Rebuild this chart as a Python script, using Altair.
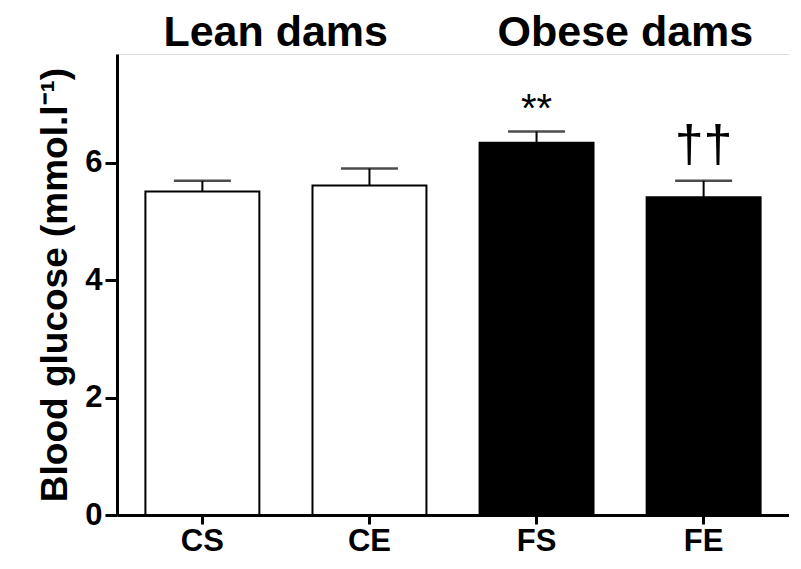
import altair as alt
import pandas as pd

groups = ["CS", "CE", "FS", "FE"]
means = [5.51, 5.61, 6.34, 5.41]
errs = [0.18, 0.29, 0.19, 0.28]
fills = ["white", "white", "black", "black"]

group_titles = ["Lean dams", "Obese dams"]
group_title_pos = ["CS", "FS"]  # left category of each pair

ann_groups = ["FS", "FE"]
ann_text = ["**", "††"]
ann_y = [6.9, 6.28]
ann_size = [40, 52]

df = pd.DataFrame({"group": groups, "mean": means, "err": errs, "fill": fills})
df["upper"] = df["mean"] + df["err"]

FONT = "Liberation Sans"
W, H = 672, 461
YMAX = 7.85

xenc = alt.X("group:N", sort=groups, title=None,
             scale=alt.Scale(paddingInner=0.318, paddingOuter=0.17),
             axis=alt.Axis(labelFont=FONT, labelFontSize=31, labelFontWeight="bold",
                           labelColor="black", labelAngle=0, labelPadding=2,
                           domainColor="black", domainWidth=3, tickColor="black",
                           tickWidth=3, tickSize=9))
yscale = alt.Scale(domain=[0, YMAX], nice=False, zero=True)

bars = alt.Chart(df).mark_bar(stroke="black", strokeWidth=2).encode(
    x=xenc,
    y=alt.Y("mean:Q", scale=yscale, title="Blood glucose (mmol.l⁻¹)",
            axis=alt.Axis(values=[0, 2, 4, 6], format="d", grid=False, labelFont=FONT,
                          labelFontSize=31, labelFontWeight="bold", labelColor="black",
                          titleFont=FONT, titleFontSize=37, titleFontWeight="bold",
                          titleColor="black", titlePadding=10,
                          domainColor="black", domainWidth=3, tickColor="black",
                          tickWidth=3, tickSize=12, labelPadding=3)),
    fill=alt.Fill("fill:N", scale=None),
)

rules = alt.Chart(df).mark_rule(color="black", strokeWidth=2).encode(
    x=alt.X("group:N", sort=groups), y="mean:Q", y2="upper:Q")
caps = alt.Chart(df).mark_tick(color="black", thickness=2.5, size=57).encode(
    x=alt.X("group:N", sort=groups), y=alt.Y("upper:Q"))

ann_df = pd.DataFrame({"group": ann_groups, "text": ann_text, "y": ann_y, "size": ann_size})
ann = alt.Chart(ann_df).mark_text(font=FONT, color="black", baseline="middle").encode(
    x=alt.X("group:N", sort=groups), y="y:Q", text="text:N",
    size=alt.Size("size:Q", scale=None))

title_df = pd.DataFrame({"group": group_title_pos, "text": group_titles})
titles = alt.Chart(title_df).mark_text(font=FONT, fontSize=43, fontWeight="bold",
                                       color="black", baseline="alphabetic", align="left",
                                       dx=-39).encode(
    x=alt.X("group:N", sort=groups), y=alt.value(-8), text="text:N")

chart = alt.layer(bars, rules, caps, ann, titles).properties(
    width=W, height=H,
    padding={"top": 4, "bottom": 0, "left": 28, "right": 0},
).configure_view(stroke=None).configure(background="white")

chart.save("out.html", embed_options={"renderer": "svg", "actions": False})
